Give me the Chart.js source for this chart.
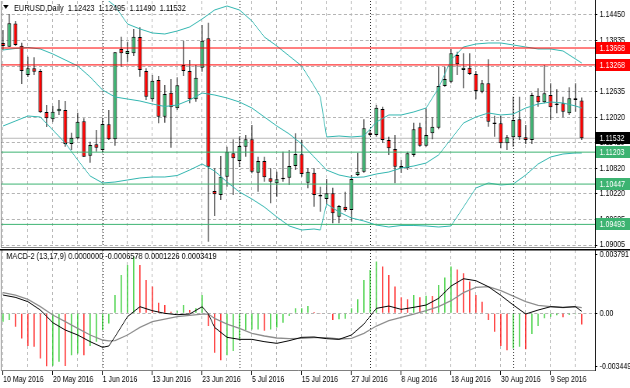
<!DOCTYPE html>
<html>
<head>
<meta charset="utf-8">
<script src="https://cdn.jsdelivr.net/npm/chart.js@4.4.0/dist/chart.umd.min.js"></script>
<style>
  html, body { margin: 0; padding: 0; background: #fff; }
  #wrap { position: relative; width: 630px; height: 388px; overflow: hidden; }
  canvas { position: absolute; left: 0; }
</style>
</head>
<body>
<div id="wrap">
  <canvas id="price" width="810" height="249" style="top:0;width:630px;height:249px"></canvas>
  <canvas id="macd" width="810" height="139" style="top:249px;width:630px;height:139px"></canvas>
</div>
<script>
// values
const dateLabels = ['10 May 2016', '20 May 2016', '1 Jun 2016', '13 Jun 2016', '23 Jun 2016', '5 Jul 2016',
  '15 Jul 2016', '27 Jul 2016', '8 Aug 2016', '18 Aug 2016', '30 Aug 2016', '9 Sep 2016'];

const openPrices = [1.13787, 1.13699, 1.14249, 1.13723, 1.13029, 1.13188, 1.13124, 1.12154, 1.11981, 1.12170,
  1.12201, 1.11396, 1.11531, 1.11933, 1.11119, 1.11389, 1.11254, 1.11862, 1.11507, 1.13645,
  1.13527, 1.13543, 1.13929, 1.13124, 1.12454, 1.12911, 1.12042, 1.12610, 1.12241, 1.13266,
  1.13124, 1.12454, 1.13202, 1.13898, 1.10283, 1.10189, 1.10622, 1.11176, 1.10994, 1.11332,
  1.11507, 1.10717, 1.10994, 1.10584, 1.10466, 1.10560, 1.10598, 1.10875, 1.11152, 1.10480,
  1.10717, 1.10165, 1.10094, 1.10229, 1.09675, 1.09912, 1.09834, 1.10662, 1.10740, 1.11664,
  1.11609, 1.12225, 1.11491, 1.11278, 1.10821, 1.10821, 1.11136, 1.11791, 1.11356, 1.11649,
  1.11782, 1.12769, 1.12871, 1.13503, 1.13148, 1.13202, 1.13053, 1.12634, 1.12833, 1.11886,
  1.11886, 1.11413, 1.11555, 1.11981, 1.11555, 1.11491, 1.12539, 1.12383, 1.12556, 1.12319,
  1.12360, 1.12123, 1.12478, 1.12423];
const highPrices = [1.14095, 1.14474, 1.14308, 1.13794, 1.13463, 1.13449, 1.13172, 1.12319, 1.12296, 1.12438,
  1.12414, 1.11664, 1.12137, 1.12004, 1.11450, 1.11727, 1.12004, 1.12201, 1.13574, 1.13936,
  1.13818, 1.14119, 1.14159, 1.13188, 1.13029, 1.13006, 1.12793, 1.12935, 1.12975, 1.13842,
  1.13385, 1.13266, 1.14213, 1.14268, 1.10821, 1.11112, 1.11332, 1.11507, 1.11569, 1.11609,
  1.11846, 1.11095, 1.11095, 1.10821, 1.10740, 1.11214, 1.11254, 1.11649, 1.11491, 1.10821,
  1.10821, 1.10385, 1.10567, 1.10361, 1.09952, 1.10267, 1.10662, 1.11190, 1.11981, 1.11727,
  1.12319, 1.12279, 1.11569, 1.11609, 1.11017, 1.11214, 1.11900, 1.11900, 1.12241, 1.12028,
  1.13226, 1.13226, 1.13645, 1.13581, 1.13543, 1.13543, 1.13124, 1.12911, 1.13401, 1.12066,
  1.12059, 1.11609, 1.12516, 1.12516, 1.11846, 1.12610, 1.12715, 1.13266, 1.12833, 1.12691,
  1.12516, 1.12738, 1.12833, 1.12495];
const lowPrices = [1.13621, 1.13692, 1.13716, 1.12816, 1.12982, 1.13029, 1.12130, 1.11798, 1.11924, 1.12083,
  1.11332, 1.11254, 1.11507, 1.11088, 1.10953, 1.11214, 1.11199, 1.11491, 1.11356, 1.13226,
  1.13344, 1.13479, 1.12989, 1.12438, 1.12397, 1.11886, 1.11900, 1.11308, 1.12201, 1.13006,
  1.12360, 1.12397, 1.13108, 1.09083, 1.09691, 1.10070, 1.10385, 1.10189, 1.10859, 1.11095,
  1.10702, 1.10267, 1.10503, 1.09992, 1.10148, 1.10503, 1.10425, 1.10780, 1.10622, 1.10347,
  1.09912, 1.09793, 1.09968, 1.09519, 1.09519, 1.09793, 1.09557, 1.10638, 1.10717, 1.11585,
  1.11569, 1.11427, 1.11136, 1.10466, 1.10709, 1.10780, 1.11095, 1.11332, 1.11332, 1.11507,
  1.11744, 1.12752, 1.12833, 1.13029, 1.12715, 1.13029, 1.12454, 1.12596, 1.11806, 1.11569,
  1.11294, 1.11254, 1.11332, 1.11491, 1.11396, 1.11396, 1.12279, 1.12360, 1.11964, 1.12123,
  1.12028, 1.12083, 1.12161, 1.11490];
const closePrices = [1.13716, 1.14253, 1.13740, 1.13124, 1.13188, 1.13108, 1.12146, 1.12004, 1.12161, 1.12232,
  1.11396, 1.11545, 1.11924, 1.11095, 1.11372, 1.11308, 1.11869, 1.11507, 1.13567, 1.13543,
  1.13598, 1.13936, 1.13148, 1.12516, 1.12895, 1.12042, 1.12580, 1.12265, 1.12786, 1.13124,
  1.12454, 1.12966, 1.13842, 1.10859, 1.10205, 1.10622, 1.11214, 1.11057, 1.11349, 1.11507,
  1.10740, 1.10994, 1.10608, 1.10503, 1.10560, 1.10598, 1.10875, 1.11159, 1.10686, 1.10740,
  1.10189, 1.10153, 1.10229, 1.09755, 1.09928, 1.09834, 1.10567, 1.10740, 1.11768, 1.11609,
  1.12255, 1.11491, 1.11294, 1.10859, 1.10875, 1.11176, 1.11744, 1.11356, 1.11609, 1.11806,
  1.12769, 1.12935, 1.13543, 1.13283, 1.13202, 1.13053, 1.12651, 1.12833, 1.11924, 1.11869,
  1.11413, 1.11555, 1.11964, 1.11555, 1.11491, 1.12556, 1.12383, 1.12596, 1.12265, 1.12343,
  1.12161, 1.12478, 1.12438, 1.11532];

// Bollinger bands, read at these bar positions
const bandBars = [0, 2, 4, 6, 8, 10, 12, 14, 16, 18, 20, 22, 24, 26, 28, 30, 32, 34, 36, 38, 40, 42, 44, 46, 48,
  50, 51, 52, 54, 56, 58, 60, 62, 64, 66, 68, 70, 72, 74, 76, 78, 80, 82, 84, 86, 88, 90, 92, 93];
const bandUpper = [1.1541, 1.1546, 1.1548, 1.1545, 1.1538, 1.1535, 1.1530, 1.1520, 1.1490, 1.1466, 1.14237,
  1.14119, 1.14024, 1.14000, 1.14071, 1.14166, 1.14355, 1.14568, 1.14663, 1.14568, 1.14308, 1.13929, 1.13716,
  1.13479, 1.13242, 1.12769, 1.12509, 1.11562, 1.11585, 1.11562, 1.11585, 1.11917, 1.12083, 1.12083, 1.12154,
  1.12248, 1.12722, 1.13385, 1.13692, 1.13763, 1.13787, 1.13787, 1.13740, 1.13692, 1.13645, 1.13645, 1.13598,
  1.13408, 1.13313];
const bandMiddle = [1.13621, 1.13657, 1.13681, 1.13645, 1.13527, 1.13385, 1.13243, 1.12982, 1.12674, 1.12509,
  1.12461, 1.12414, 1.12343, 1.12284, 1.12319, 1.12438, 1.12603, 1.12556, 1.12485, 1.12390, 1.12248, 1.12035,
  1.11822, 1.11633, 1.11396, 1.11088, 1.10934, 1.10780, 1.10662, 1.10603, 1.10615, 1.10686, 1.10733, 1.10828,
  1.10875, 1.10946, 1.11136, 1.11514, 1.11893, 1.12035, 1.12130, 1.12083, 1.12106, 1.12248, 1.12343, 1.12390,
  1.12367, 1.12296, 1.12248];
const bandLower = [1.11822, 1.11940, 1.12059, 1.12035, 1.11727, 1.11420, 1.11017, 1.10638, 1.10473, 1.10496,
  1.10544, 1.10591, 1.10615, 1.10615, 1.10650, 1.10780, 1.10923, 1.10757, 1.10496, 1.10260, 1.10094, 1.09904,
  1.09668, 1.09455, 1.09360, 1.09384, 1.09360, 1.09976, 1.09786, 1.09644, 1.09573, 1.09478, 1.09431, 1.09467,
  1.09467, 1.09455, 1.09431, 1.09455, 1.09904, 1.10354, 1.10473, 1.10425, 1.10449, 1.10662, 1.10923, 1.11088,
  1.11159, 1.11183, 1.11183];

// MACD-2 (13,17,9): main and signal read at these bar positions, histogram on every bar
const macdBars = [0, 2, 4, 6, 8, 10, 12, 14, 16, 17, 18, 20, 22, 24, 26, 28, 30, 32, 33, 34, 36, 38, 40, 42, 44,
  46, 48, 50, 52, 54, 56, 58, 60, 62, 64, 66, 68, 70, 72, 74, 76, 78, 80, 82, 84, 86, 88, 90, 92, 93];
const macdMain = [0.001096, 0.000957, 0.000698, 0.000199, -0.000558, -0.000997, -0.001295, -0.001694, -0.002033,
  -0.001953, -0.001395, -0.000199, 0.000399, 0.000159, 0.0, -0.000080, -0.000040, 0.000399, -0.000040,
  -0.000837, -0.001435, -0.001555, -0.001555, -0.001694, -0.001794, -0.001634, -0.001435, -0.001415, -0.001515,
  -0.001555, -0.001295, -0.000638, 0.000299, 0.000438, 0.000239, 0.000359, 0.000498, 0.000897, 0.001634,
  0.002073, 0.001953, 0.001594, 0.001076, 0.000498, -0.000040, 0.000199, 0.000399, 0.000359, 0.000399, 0.000123];
const macdSignal = [0.001236, 0.001096, 0.000837, 0.000399, -0.000100, -0.000498, -0.000897, -0.001295, -0.001594,
  -0.001650, -0.001634, -0.001295, -0.000837, -0.000498, -0.000339, -0.000199, -0.000120, -0.000040, -0.000040,
  -0.000299, -0.000638, -0.000897, -0.001196, -0.001355, -0.001475, -0.001515, -0.001495, -0.001455, -0.001455,
  -0.001535, -0.001495, -0.001196, -0.000757, -0.000438, -0.000239, -0.000040, 0.000159, 0.000399, 0.000757,
  0.001236, 0.001555, 0.001594, 0.001355, 0.001036, 0.000698, 0.000478, 0.000399, 0.000339, 0.000399, 0.000342];
const macdHist = [-0.00050, -0.00040, -0.00080, -0.00150, -0.00195, -0.00200, -0.00270, -0.00316, -0.00314, -0.00290,
  -0.00315, -0.00250, -0.00240, -0.00250, -0.00195, -0.00170, -0.00100, -0.00060, 0.00110, 0.00230,
  0.00290, 0.00340, 0.00290, 0.00200, 0.00160, 0.00064, 0.00050, 0.00010, 0.00016, 0.00050,
  0.00020, 0.00030, 0.00110, -0.00076, -0.00235, -0.00280, -0.00250, -0.00225, -0.00160, -0.00100,
  -0.00096, -0.00096, -0.00104, -0.00096, -0.00084, -0.00056, -0.00016, 0.00030, 0.00030, 0.00044,
  0.00008, -0.00004, -0.00003, -0.00040, -0.00036, -0.00032, 0.00030, 0.00084, 0.00200, 0.00260,
  0.00310, 0.00280, 0.00230, 0.00160, 0.00096, 0.00084, 0.00110, 0.00096, 0.00105, 0.00104,
  0.00170, 0.00215, 0.00280, 0.00263, 0.00240, 0.00190, 0.00110, 0.00070, -0.00040, -0.00110,
  -0.00195, -0.00220, -0.00210, -0.00200, -0.00215, -0.00124, -0.00076, -0.00030, -0.00020, -0.00012,
  -0.00024, -0.00010, -0.00005, -0.00066];

const priceTicks = [1.14450, 1.13835, 1.13220, 1.12635, 1.12020, 1.11420, 1.10820, 1.10220, 1.09605, 1.09005];
const resistanceLevels = [1.13668, 1.13268];
const supportLevels = [1.11203, 1.10447, 1.09493];
const bidPrice = 1.11532;
const monthStarts = [16, 38, 59, 82];
const macdAxisLabels = ['0.003791', '0.00', '-0.003449'];
const priceTitle = 'EURUSD,Daily  1.12423  1.12495  1.11490  1.11532';
const macdTitle = 'MACD-2 (13,17,9) 0.0000000 -0.0006578 0.0001226 0.0003419';

// view window
const X_MIN = -0.36, X_MAX = 95.14;
const PRICE_MIN = 1.08934, PRICE_MAX = 1.14781;
const MACD_MIN = -0.003449, MACD_MAX = 0.003791;

const FONT = '"Liberation Sans", Arial, sans-serif';
const GREEN = 'rgb(60,179,113)';
const RED = '#ff0000';
const BAND = 'rgb(50,182,176)';
const GRID = '#b4b4b4';
const NONE = 'rgba(0,0,0,0)';

Chart.defaults.font.family = FONT;
Chart.defaults.font.size = 9;
Chart.defaults.color = '#000';

const bars = closePrices.map((_, i) => i);
const points = (xs, ys) => xs.map((x, i) => ({ x: x, y: ys[i] }));
const hLine = v => [{ x: X_MIN, y: v }, { x: X_MAX, y: v }];

function lineSet(data, color, width, order) {
  return { type: 'line', data: data, borderColor: color, borderWidth: width, pointRadius: 0, tension: 0, order: order };
}

function xAxis(withLabels) {
  return {
    type: 'linear', min: X_MIN, max: X_MAX, offset: false,
    afterBuildTicks: s => {
      const t = [];
      for (let i = 0; i <= X_MAX; i += 4) t.push({ value: i });
      s.ticks = t;
    },
    afterFit: s => { s.height = withLabels ? 17 : 0; s.paddingLeft = 0; s.paddingRight = 0; },
    border: { display: false, dash: [3, 3] },
    grid: {
      color: GRID, offset: false, drawTicks: withLabels, tickLength: 4,
      tickColor: c => (c.tick && c.tick.value % 8 === 0) ? '#000' : NONE
    },
    ticks: {
      display: withLabels, autoSkip: false, maxRotation: 0, minRotation: 0, align: 'start', padding: -1,
      callback: v => v % 8 === 0 ? (dateLabels[v / 8] || '') : ''
    }
  };
}

// dotted month separators
const separators = {
  id: 'separators',
  beforeDatasetsDraw(chart) {
    const { ctx, chartArea, scales } = chart;
    ctx.save();
    ctx.strokeStyle = '#000';
    ctx.lineWidth = 1;
    ctx.setLineDash([1, 2]);
    monthStarts.forEach(i => {
      const x = Math.round(scales.x.getPixelForValue(i)) + 0.5;
      ctx.beginPath();
      ctx.moveTo(x, chartArea.top);
      ctx.lineTo(x, chartArea.bottom);
      ctx.stroke();
    });
    ctx.restore();
  }
};

const frame = {
  id: 'frame',
  afterDraw(chart, args, opts) {
    const { ctx, chartArea: a } = chart;
    ctx.save();
    ctx.lineWidth = 1;
    ctx.strokeStyle = '#808080';
    ctx.beginPath();
    ctx.moveTo(a.left + 0.5, a.top);
    ctx.lineTo(a.left + 0.5, a.bottom - 0.5);
    ctx.lineTo(a.right, a.bottom - 0.5);
    ctx.stroke();
    ctx.strokeStyle = '#000';
    ctx.beginPath();
    ctx.moveTo(a.right + 0.5, 0);
    ctx.lineTo(a.right + 0.5, a.bottom);
    ctx.stroke();
    if (opts.topLine) {
      ctx.lineWidth = 1.5;
      ctx.beginPath();
      ctx.moveTo(0, a.top - 0.25);
      ctx.lineTo(chart.width, a.top - 0.25);
      ctx.stroke();
    }
    ctx.restore();
  }
};

const header = {
  id: 'header',
  afterDraw(chart, args, opts) {
    const { ctx } = chart;
    ctx.save();
    ctx.font = opts.size + 'px ' + FONT;
    ctx.fillStyle = '#000';
    if (opts.marker) {
      ctx.beginPath();
      ctx.moveTo(4, 5);
      ctx.lineTo(11, 5);
      ctx.lineTo(7.5, 9);
      ctx.closePath();
      ctx.fill();
    }
    ctx.fillText(opts.text, opts.x, opts.y);
    ctx.restore();
  }
};

// coloured price tags on the right axis
const priceTags = {
  id: 'priceTags',
  afterDraw(chart) {
    const { ctx, chartArea, scales } = chart;
    const tag = (v, color) => {
      const y = scales.y.getPixelForValue(v);
      ctx.fillStyle = color;
      ctx.fillRect(chartArea.right + 1, Math.round(y) - 6, chart.width - chartArea.right - 1, 12);
      ctx.fillStyle = '#fff';
      ctx.fillText(v.toFixed(5), chartArea.right + 6, Math.round(y) + 0.5);
    };
    ctx.save();
    ctx.font = '9px ' + FONT;
    ctx.textBaseline = 'middle';
    resistanceLevels.forEach(v => tag(v, RED));
    supportLevels.forEach(v => tag(v, GREEN));
    tag(bidPrice, '#000');
    ctx.restore();
  }
};

const baseOptions = {
  responsive: false,
  devicePixelRatio: 1,
  animation: false,
  events: []
};
const quiet = { legend: { display: false }, tooltip: { enabled: false } };

new Chart(document.getElementById('price'), {
  type: 'line',
  data: {
    datasets: [
      ...resistanceLevels.map(v => lineSet(hLine(v), RED, 1, 0)),
      ...supportLevels.map(v => lineSet(hLine(v), GREEN, 1, 0)),
      lineSet(hLine(bidPrice), '#b8b8b8', 1, 5),
      lineSet(points(bandBars, bandUpper), BAND, 1, 1),
      lineSet(points(bandBars, bandMiddle), BAND, 1, 1),
      lineSet(points(bandBars, bandLower), BAND, 1, 1),
      {
        type: 'bar', order: 2, grouped: false, maxBarThickness: 5, minBarLength: 1.5,
        data: bars.map(i => ({ x: i, y: [openPrices[i], closePrices[i]] })),
        backgroundColor: c => (c.dataIndex !== undefined && closePrices[c.dataIndex] < openPrices[c.dataIndex]) ? RED : GREEN,
        borderColor: '#000', borderWidth: 1, borderSkipped: false
      },
      {
        type: 'bar', order: 3, grouped: false, maxBarThickness: 1,
        data: bars.map(i => ({ x: i, y: [lowPrices[i], highPrices[i]] })),
        backgroundColor: '#000', borderWidth: 0
      }
    ]
  },
  options: {
    ...baseOptions,
    layout: { autoPadding: false, padding: { left: 1, top: 1, right: 0, bottom: 1 } },
    plugins: {
      ...quiet,
      frame: {},
      header: { text: priceTitle, x: 18, y: 11, size: 9.5, marker: true }
    },
    scales: {
      x: xAxis(false),
      y: {
        position: 'right', min: PRICE_MIN, max: PRICE_MAX,
        afterBuildTicks: s => { s.ticks = priceTicks.map(v => ({ value: v })); },
        afterFit: s => { s.width = 45; s.paddingTop = 0; s.paddingBottom = 0; },
        border: { display: false, dash: [4, 3] },
        grid: { color: GRID, drawTicks: true, tickLength: 3, tickColor: '#000' },
        ticks: { padding: 3, autoSkip: false, callback: v => v.toFixed(5) }
      }
    }
  },
  plugins: [separators, frame, header, priceTags]
});

new Chart(document.getElementById('macd'), {
  type: 'line',
  data: {
    datasets: [
      lineSet(points(macdBars, macdMain), '#000', 1, 0),
      lineSet(points(macdBars, macdSignal), '#8c8c8c', 1.3, 1),
      {
        type: 'bar', order: 2, grouped: false, maxBarThickness: 1.3,
        data: bars.map(i => ({ x: i, y: macdHist[i] })),
        backgroundColor: c => {
          const i = c.dataIndex;
          if (i === undefined) return GREEN;
          return (i === 0 || macdHist[i] >= macdHist[i - 1]) ? 'rgb(30,200,30)' : RED;
        },
        borderWidth: 0
      }
    ]
  },
  options: {
    ...baseOptions,
    layout: { autoPadding: false, padding: { left: 1, top: 1, right: 0, bottom: 0 } },
    plugins: {
      ...quiet,
      frame: { topLine: true },
      header: { text: macdTitle, x: 8, y: 10, size: 9.5, marker: false }
    },
    scales: {
      x: xAxis(true),
      y: {
        position: 'right', min: MACD_MIN, max: MACD_MAX,
        afterBuildTicks: s => {
          const pad = (MACD_MAX - MACD_MIN) * 4.5 / 121;
          s.ticks = [{ value: MACD_MAX - pad }, { value: 0 }, { value: MACD_MIN + pad }];
        },
        afterFit: s => { s.width = 45; s.paddingTop = 0; s.paddingBottom = 0; },
        border: { display: false, dash: [4, 3] },
        grid: {
          color: c => (c.tick && c.tick.value === 0) ? GRID : NONE,
          drawTicks: true, tickLength: 3, tickColor: '#000'
        },
        ticks: { padding: 3, autoSkip: false, callback: (v, i) => macdAxisLabels[i] }
      }
    }
  },
  plugins: [separators, frame, header]
});
</script>
</body>
</html>
